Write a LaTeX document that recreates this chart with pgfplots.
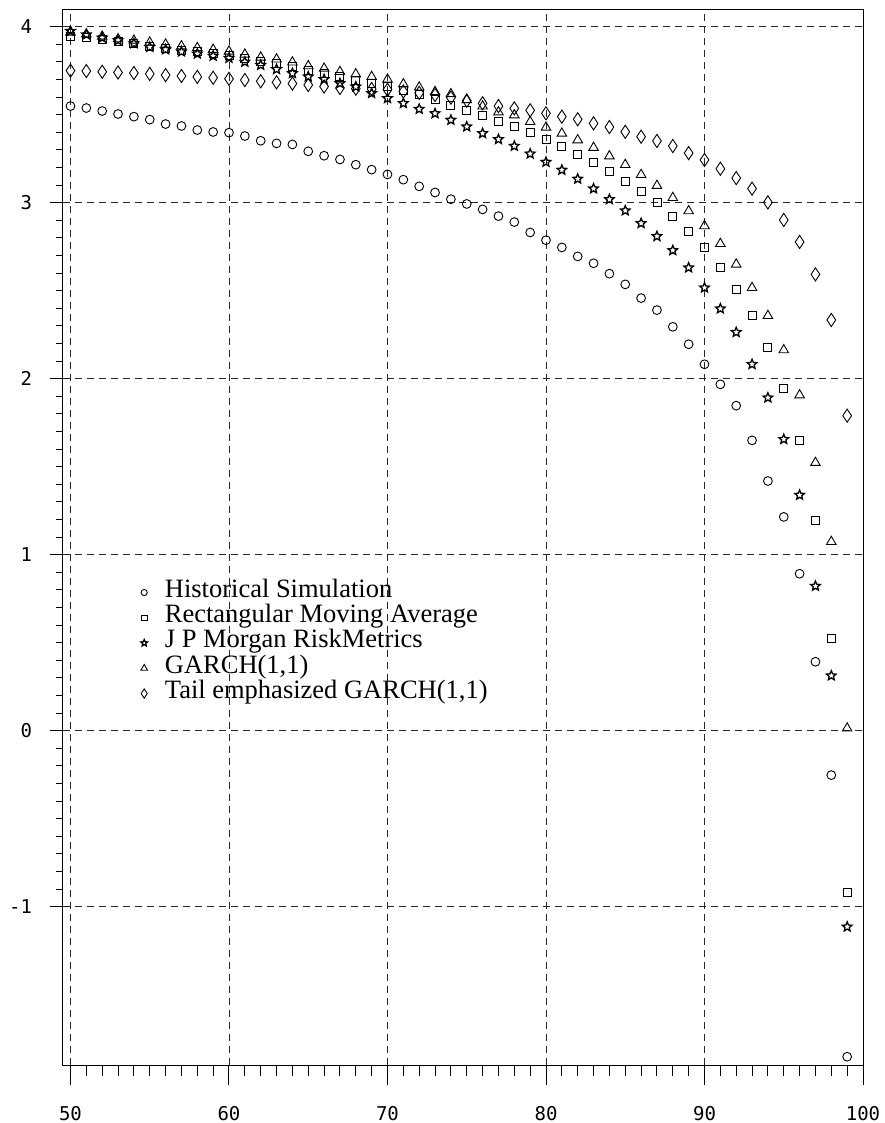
\documentclass[border=0pt]{standalone}
\usepackage{fontspec}
\usepackage{pgfplots}
\usepackage{pgfplotstable}
\pgfplotsset{compat=1.18}
\usetikzlibrary{plotmarks}
\newfontfamily\legfont{Liberation Serif}
\newfontfamily\tickfont{DejaVu Sans Mono}

\pgfdeclareplotmark{pstar}{%
  \pgfpathmoveto{\pgfpointpolar{90}{\pgfplotmarksize}}%
  \pgfpathlineto{\pgfpointpolar{126}{0.45\pgfplotmarksize}}%
  \pgfpathlineto{\pgfpointpolar{162}{\pgfplotmarksize}}%
  \pgfpathlineto{\pgfpointpolar{198}{0.45\pgfplotmarksize}}%
  \pgfpathlineto{\pgfpointpolar{234}{\pgfplotmarksize}}%
  \pgfpathlineto{\pgfpointpolar{270}{0.45\pgfplotmarksize}}%
  \pgfpathlineto{\pgfpointpolar{306}{\pgfplotmarksize}}%
  \pgfpathlineto{\pgfpointpolar{342}{0.45\pgfplotmarksize}}%
  \pgfpathlineto{\pgfpointpolar{18}{\pgfplotmarksize}}%
  \pgfpathlineto{\pgfpointpolar{54}{0.45\pgfplotmarksize}}%
  \pgfpathclose
  \pgfusepathqstroke}

\pgfplotstableread{
x  hs     rma    jpm    garch  tail
50 3.549  3.946  3.975  3.968  3.750
51 3.538  3.938  3.955  3.958  3.748
52 3.521  3.926  3.937  3.945  3.744
53 3.504  3.915  3.922  3.930  3.740
54 3.489  3.905  3.905  3.922  3.737
55 3.472  3.885  3.884  3.911  3.732
56 3.447  3.875  3.870  3.900  3.725
57 3.436  3.865  3.858  3.890  3.720
58 3.413  3.857  3.846  3.880  3.715
59 3.402  3.848  3.834  3.870  3.710
60 3.398  3.839  3.822  3.860  3.704
61 3.379  3.818  3.800  3.843  3.697
62 3.352  3.801  3.782  3.826  3.690
63 3.337  3.792  3.758  3.815  3.684
64 3.331  3.777  3.735  3.798  3.677
65 3.292  3.754  3.716  3.777  3.669
66 3.267  3.735  3.701  3.763  3.660
67 3.246  3.716  3.678  3.744  3.652
68 3.216  3.697  3.659  3.731  3.648
69 3.188  3.678  3.622  3.716  3.646
70 3.161  3.663  3.593  3.701  3.642
71 3.131  3.640  3.565  3.674  3.632
72 3.093  3.616  3.532  3.656  3.624
73 3.058  3.585  3.507  3.630  3.612
74 3.020  3.553  3.470  3.618  3.597
75 2.993  3.527  3.432  3.584  3.580
76 2.962  3.497  3.394  3.548  3.565
77 2.924  3.464  3.360  3.515  3.549
78 2.890  3.432  3.322  3.498  3.536
79 2.831  3.400  3.278  3.460  3.525
80 2.787  3.360  3.231  3.428  3.508
81 2.746  3.322  3.186  3.394  3.489
82 2.695  3.277  3.135  3.356  3.474
83 2.656  3.230  3.080  3.313  3.451
84 2.597  3.180  3.019  3.265  3.430
85 2.536  3.123  2.955  3.216  3.403
86 2.458  3.066  2.883  3.159  3.375
87 2.390  3.000  2.809  3.097  3.351
88 2.295  2.924  2.729  3.028  3.322
89 2.196  2.839  2.631  2.953  3.282
90 2.082  2.744  2.517  2.868  3.243
91 1.968  2.631  2.398  2.767  3.193
92 1.847  2.508  2.264  2.650  3.140
93 1.650  2.358  2.082  2.517  3.080
94 1.419  2.180  1.892  2.358  3.002
95 1.215  1.945  1.656  2.163  2.902
96 0.892  1.652  1.339  1.907  2.777
97 0.392  1.193  0.822  1.523  2.593
98 -0.252 0.525  0.313  1.074  2.334
99 -1.852 -0.916 -1.114 0.014  1.790
}\datatable

\begin{document}
\begin{tikzpicture}
\begin{axis}[
  scale only axis,
  width=800pt, height=1055.7pt,
  xmin=49.527, xmax=100,
  ymin=-1.899, ymax=4.099,
  xtick={50,60,70,80,90,100},
  ytick={-1,0,1,2,3,4},
  minor x tick num=9,
  minor y tick num=9,
  tick pos=left,
  tick align=outside,
  axis line style={line width=1pt, black},
  every tick/.style={black, line width=1pt},
  x tick style={/pgfplots/major tick length=20pt, /pgfplots/minor tick length=11pt},
  y tick style={/pgfplots/major tick length=13.3pt, /pgfplots/minor tick length=6.7pt},
  xmajorgrids, ymajorgrids,
  grid style={black!85, line width=0.8pt, dash pattern=on 7pt off 5pt},
  /pgf/number format/assume math mode=true,
  ticklabel style={font=\tickfont\fontsize{19}{19}\selectfont, inner sep=0pt},
  xticklabel style={anchor=north, yshift=-37pt},
  yticklabel style={anchor=east, xshift=-26.5pt},
  legend style={draw=none, fill=none, inner sep=0pt, outer sep=0pt,
    at={(axis cs:54.385,0.857)}, anchor=north west,
    font=\legfont\fontsize{26.5}{25.25}\selectfont,
    row sep=0pt, column sep=16.5pt,
    nodes={inner sep=0pt, text height=17.5pt, text depth=7.75pt}},
  legend cell align=left,
  legend image code/.code={\path (-4pt,0pt) (4pt,0pt);
    \draw[#1, every mark/.append style={scale=0.7}] plot coordinates {(0pt,0pt)};},
]
\addplot[only marks, mark=o, mark size=4.4pt, mark options={line width=0.9pt, black}] table[x=x, y=hs] {\datatable};
\addplot[only marks, mark=square, mark size=4pt, mark options={line width=0.9pt, black}] table[x=x, y=rma] {\datatable};
\addplot[only marks, mark=pstar, mark size=5pt, mark options={line width=1.3pt, black}] table[x=x, y=jpm] {\datatable};
\addplot[only marks, mark=triangle, mark size=5.5pt, mark options={line width=0.9pt, black}] table[x=x, y=garch] {\datatable};
\addplot[only marks, mark=diamond, mark size=6.6pt, mark options={line width=0.9pt, black, xscale=0.88}] table[x=x, y=tail] {\datatable};
\legend{Historical Simulation, Rectangular Moving Average, J P Morgan RiskMetrics, GARCH(1{,}1), Tail emphasized GARCH(1{,}1)}
\coordinate (bl) at (rel axis cs:0,0);
\coordinate (tr) at (rel axis cs:1,1);
\end{axis}
\pgfresetboundingbox
\path[use as bounding box] ([shift={(-63pt,-58pt)}]bl) rectangle ([shift={(22pt,9.3pt)}]tr);
\end{tikzpicture}
\end{document}
